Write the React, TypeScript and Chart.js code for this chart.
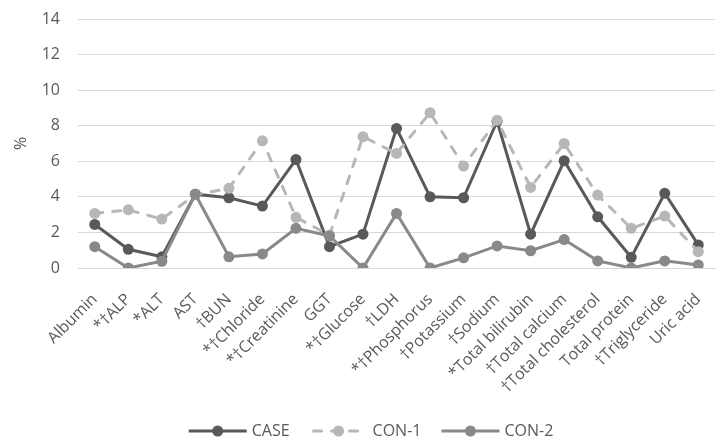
import React, { useEffect, useRef } from "react";
import { Chart, registerables } from "chart.js";

Chart.register(...registerables);

const categories = [
  "Albumin", "*†ALP", "*ALT", "AST", "†BUN", "*†Chloride", "*†Creatinine", "GGT",
  "*†Glucose", "†LDH", "*†Phosphorus", "†Potassium", "†Sodium", "*Total bilirubin",
  "†Total calcium", "†Total cholesterol", "Total protein", "†Triglyceride", "Uric acid",
];
const caseValues = [2.45, 1.05, 0.63, 4.15, 3.95, 3.48, 6.1, 1.2, 1.9, 7.85, 4.0, 3.95, 8.25, 1.9, 6.03, 2.88, 0.6, 4.2, 1.3];
const con1Values = [3.07, 3.27, 2.75, 4.12, 4.48, 7.15, 2.85, 1.85, 7.38, 6.44, 8.73, 5.73, 8.31, 4.53, 7.0, 4.1, 2.23, 2.92, 0.92];
const con2Values = [1.2, 0.0, 0.38, 4.15, 0.63, 0.79, 2.23, 1.8, 0.0, 3.07, 0.0, 0.57, 1.24, 0.97, 1.6, 0.4, 0.0, 0.4, 0.17];
const seriesLabels = ["CASE", "CON-1", "CON-2"];
const yTicks = [0, 2, 4, 6, 8, 10, 12, 14];

const FONT = '"Open Sans", sans-serif';
const TEXT = "#595959";
const colors = ["#595959", "#b7b7b7", "#898989"];

const legendPlugin = {
  id: "customLegend",
  afterDraw(chart: any) {
    const ctx = chart.ctx as CanvasRenderingContext2D;
    ctx.save();
    ctx.font = `16px ${FONT}`;
    const symW = 58, gap = 5, spacing = 20;
    const items = chart.data.datasets.map((ds: any) => ({ ds, w: ctx.measureText(ds.label).width }));
    const total = items.reduce((s: number, it: any) => s + symW + gap + it.w, 0) + spacing * (items.length - 1);
    let x = 371 - total / 2;
    const y = 431;
    for (const it of items) {
      const ds = it.ds;
      const dashed = ds.borderDash && ds.borderDash.length;
      ctx.strokeStyle = ds.borderColor;
      ctx.lineWidth = 3;
      ctx.lineCap = dashed ? "round" : "butt";
      ctx.setLineDash(ds.borderDash || []);
      ctx.beginPath();
      ctx.moveTo(x + (dashed ? 4 : 0), y);
      ctx.lineTo(x + symW - (dashed ? 4 : 0), y);
      ctx.stroke();
      ctx.setLineDash([]);
      ctx.fillStyle = ds.borderColor;
      ctx.beginPath();
      ctx.arc(x + symW / 2, y, 5.5, 0, Math.PI * 2);
      ctx.fill();
      ctx.fillStyle = TEXT;
      ctx.textBaseline = "middle";
      ctx.textAlign = "left";
      ctx.fillText(ds.label, x + symW + gap, y);
      x += symW + gap + it.w + spacing;
    }
    ctx.restore();
  },
};

export default function App() {
  const ref = useRef<HTMLCanvasElement | null>(null);
  useEffect(() => {
    document.documentElement.style.overflow = "hidden";
    document.body.style.overflow = "hidden";
    const mk = (i: number, data: number[], order: number, dash?: number[]) => ({
      label: seriesLabels[i],
      data,
      borderColor: colors[i],
      backgroundColor: colors[i],
      pointBackgroundColor: colors[i],
      pointBorderWidth: 0,
      pointRadius: 5.5,
      borderWidth: 3,
      borderDash: dash || [],
      borderCapStyle: dash ? "round" : "butt",
      tension: 0,
      order,
    });
    const chart = new Chart(ref.current!, {
      type: "line",
      data: {
        labels: categories,
        datasets: [
          mk(0, caseValues, 3),
          mk(1, con1Values, 2, [8, 10]),
          mk(2, con2Values, 1),
        ] as any,
      },
      plugins: [legendPlugin],
      options: {
        animation: false,
        responsive: false,
        layout: { padding: { top: 19, bottom: 40, right: 1, left: 0 } },
        plugins: { legend: { display: false }, tooltip: { enabled: false } },
        scales: {
          x: {
            offset: true,
            grid: { display: false, drawTicks: false },
            border: { display: true, color: "#d9d9d9", width: 1 },
            ticks: {
              color: TEXT,
              font: { family: FONT, size: 16 },
              maxRotation: 45,
              minRotation: 45,
              autoSkip: false,
              padding: 22,
            },
            afterFit: (s: any) => { s.height = 443 - 268 - 40; },
          },
          y: {
            min: 0,
            max: 14,
            afterBuildTicks: (s: any) => { s.ticks = yTicks.map((v) => ({ value: v })); },
            grid: { color: "#d9d9d9", lineWidth: 1, drawTicks: true, tickLength: 16, tickColor: "rgba(0,0,0,0)" },
            border: { display: false },
            ticks: { color: TEXT, font: { family: FONT, size: 16 }, padding: 2 },
            title: {
              display: true,
              text: "%",
              color: TEXT,
              font: { family: FONT, size: 16 },
              padding: { top: 12, bottom: 0 },
            },
            afterFit: (s: any) => { s.width = 78; },
          },
        },
      } as any,
    });
    return () => chart.destroy();
  }, []);
  return (
    <div style={{ position: "absolute", left: 0, top: 0, width: 734, height: 443, background: "#fff" }}>
      <canvas ref={ref} width={734} height={443} style={{ display: "block" }} />
    </div>
  );
}
